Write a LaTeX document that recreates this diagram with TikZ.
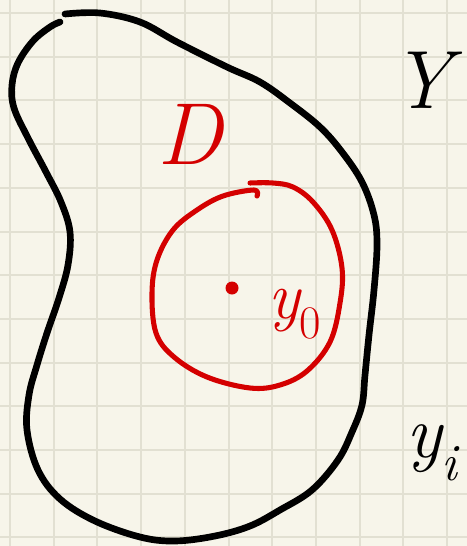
\documentclass[tikz,border=0pt]{standalone}
\usepackage{fontspec}
\usetikzlibrary{positioning}
\definecolor{skpaper}{HTML}{F7F5EA}
\definecolor{skgrid}{HTML}{E2E0D2}
\definecolor{skink}{HTML}{000000}
\definecolor{skred}{HTML}{D40000}
\tikzset{
  gridline/.style={draw=skgrid, line width=1.5pt},
  blobline/.style={draw=skink, line width=5pt, line cap=round, line join=round},
  ballline/.style={draw=skred, line width=3.8pt, line cap=round, line join=round},
  redlbl/.style={text=skred, inner sep=0pt, font=\itshape},
  inklbl/.style={text=skink, inner sep=0pt, font=\itshape},
}

\begin{document}
\begin{tikzpicture}[x=0.75pt, y=-0.75pt]
      \useasboundingbox (0,0) rectangle (467,546);
      \fill[skpaper] (0,0) rectangle (467,546);
      % paper grid
      \foreach \i in {0,...,10}
        \draw[gridline] (10+43.7*\i,0) -- (10+43.7*\i,546);
      \foreach \j in {0,...,12}
        \draw[gridline] (0,13+43.7*\j) -- (467,13+43.7*\j);
      % the set D
      \draw[blobline] plot[smooth, tension=0.6] coordinates {
        (65,14) (100,13) (140,22) (177,42) (227,67) (260,82) (290,103)
        (320,127) (342,152) (362,182) (374,215) (377,245) (374,290)
        (369,335) (365,375) (362,405) (352,432) (338,460) (312,490)
        (280,510) (250,526) (215,536) (175,541) (140,537) (95,521)
        (60,499) (38,470) (27,430) (29,395) (37,365) (47,333) (59,298)
        (68,265) (70,232) (61,202) (46,172) (28,138) (14,108) (12,85)
        (18,63) (33,41) (50,27) (60,22)};
      % the ball round y0
      \draw[ballline] plot[smooth, tension=0.6] coordinates {
        (250,183) (273,183) (293,187) (313,202) (332,230) (342,268)
        (340,303) (330,342) (307,371) (280,385) (250,388) (207,377)
        (174,357) (156,333) (152,293) (157,260) (173,230) (197,210)
        (223,196) (254,190) (257,196)};
      \fill[skred] (232,288) circle (6.5);
      % labels
      \node[redlbl] (setD) at (190,134) {\fontsize{66}{66}\selectfont D};
      \node[redlbl] (pointy) at (295,314) {\fontsize{50}{50}\selectfont y\textsubscript{\upshape 0}};
      \node[inklbl] (spaceY) at (422,80) {\fontsize{62}{62}\selectfont Y};
      \node[inklbl] (pointyi) at (432,453) {\fontsize{56}{56}\selectfont y\textsubscript{i}};
\end{tikzpicture}
\end{document}
